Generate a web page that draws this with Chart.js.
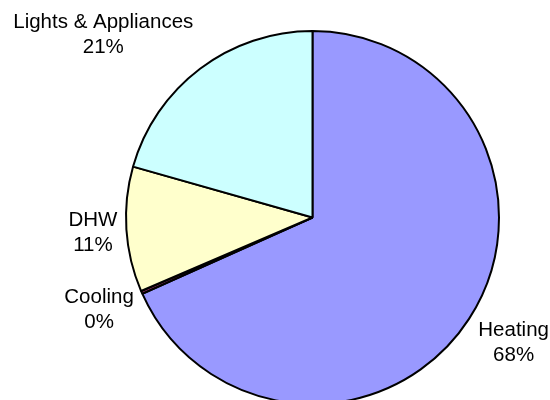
<!DOCTYPE html>
<html>
<head>
<meta charset="utf-8">
<script src="https://cdn.jsdelivr.net/npm/chart.js@4/dist/chart.umd.min.js"></script>
<style>
  html, body { margin: 0; padding: 0; background: #fff; overflow: hidden; }
  #wrap { width: 550px; height: 410px; }
</style>
</head>
<body>
<div id="wrap"><canvas id="chart" width="550" height="410"></canvas></div>
<script>
// energy use breakdown
var labels = ['Heating', 'Cooling', 'DHW', 'Lights & Appliances'];
var values = [68.3, 0.25, 10.85, 20.6];
var colors = ['#9999FF', '#993366', '#FFFFCC', '#CCFFFF'];

// label placement: distance from centre and angle tweak (degrees)
var labelDist = [236, 232, 220, 279];
var labelShift = [-1.4, 0.6, 0.3, -11.5];

var outsideLabels = {
  id: 'outsideLabels',
  afterDraw: function(chart) {
    var ctx = chart.ctx;
    var meta = chart.getDatasetMeta(0);
    var total = values.reduce(function(a, b) { return a + b; }, 0);
    ctx.save();
    ctx.font = "20.5px 'Liberation Sans', Arial, sans-serif";
    ctx.fillStyle = '#000';
    ctx.textAlign = 'center';
    ctx.textBaseline = 'alphabetic';
    meta.data.forEach(function(arc, i) {
      var mid = (arc.startAngle + arc.endAngle) / 2 + labelShift[i] * Math.PI / 180;
      var x = arc.x + labelDist[i] * Math.cos(mid);
      var y = arc.y + labelDist[i] * Math.sin(mid);
      var pct = Math.round(values[i] / total * 100) + '%';
      ctx.fillText(labels[i], x, y - 5);
      ctx.fillText(pct, x, y + 20);
    });
    ctx.restore();
  }
};

new Chart(document.getElementById('chart'), {
  type: 'pie',
  data: {
    labels: labels,
    datasets: [{
      data: values,
      backgroundColor: colors,
      borderColor: '#000',
      borderWidth: 2
    }]
  },
  options: {
    responsive: false,
    animation: false,
    layout: {
      padding: { left: 125, right: 50, top: 30, bottom: 5 }
    },
    plugins: {
      legend: { display: false },
      tooltip: { enabled: false }
    }
  },
  plugins: [outsideLabels]
});
</script>
</body>
</html>
